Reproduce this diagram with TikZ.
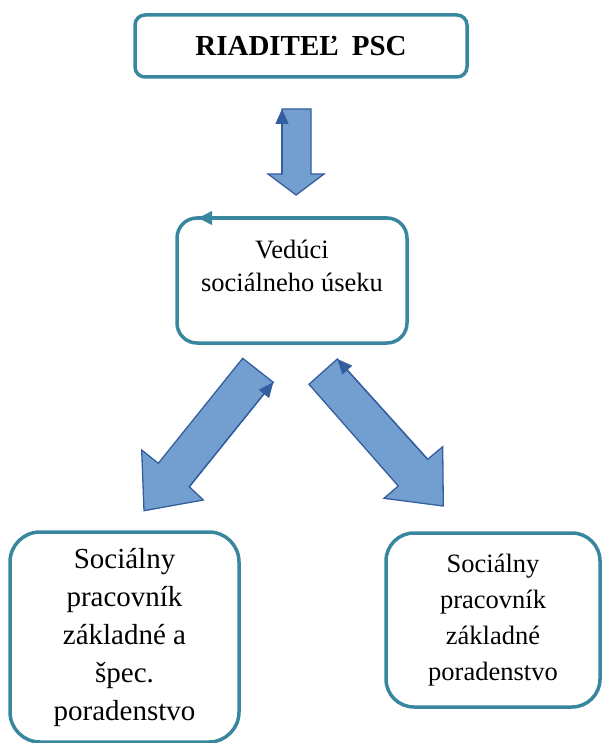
\documentclass[tikz,border=0pt]{standalone}
\usepackage{fontspec}
\setmainfont{Liberation Serif}
\usetikzlibrary{positioning, arrows.meta}
\definecolor{boxteal}{RGB}{56,135,158}
\definecolor{arrowfill}{RGB}{114,159,207}
\definecolor{arrowline}{RGB}{52,94,158}

\begin{document}
\begin{tikzpicture}[x=1pt,y=-1pt,
    box/.style={draw=boxteal, line width=3.5pt, align=center, inner sep=0pt, outer sep=0pt},
    blockarrow/.style={fill=arrowfill, draw=arrowline, line width=1.3pt, line join=miter},
    thintip/.style={draw=arrowline, line width=1.3pt, -{Triangle[length=15pt,width=13pt]}}]
    \useasboundingbox (0,0) rectangle (602,743);
    % boxes
    \node (riaditel) [box, minimum width=332pt, minimum height=62pt, rounded corners=10pt, font=\fontsize{29}{34}\selectfont\bfseries] at (301,46) {RIADITEĽ\hspace{0.45em}PSC};
    \node (veduci) [box, minimum width=230pt, minimum height=125pt, rounded corners=20pt] at (292,280.5) {};
    \node (veducitext) [align=center, font=\fontsize{26.5}{33}\selectfont] at ([yshift=15pt]veduci.center) {Vedúci\\sociálneho úseku};
    \node (specpor) [box, minimum width=229pt, minimum height=210pt, rounded corners=30pt, font=\fontsize{29}{38}\selectfont] at (124.5,637) {Sociálny\\pracovník\\základné a\\špec.\\poradenstvo};
    \node (zaklpor) [box, minimum width=214pt, minimum height=174pt, rounded corners=28pt, font=\fontsize{26.5}{36}\selectfont] at (493,620) {Sociálny\\pracovník\\základné\\poradenstvo};
    \coordinate (veducitip) at (198,218);
    \draw [boxteal, line width=3.5pt, -{Triangle[length=14pt,width=13pt]}] (veduci.north) -- (veducitip);
    % block arrows
    \draw [blockarrow] (282,109) -- (311,109) -- (311,174) -- (324,174) -- (296,195) -- (268,174) -- (282,174) -- cycle;
    \draw [blockarrow] (242.7,358.3) -- (273.3,382.3) -- (189.3,486.7) -- (203.3,500) -- (144,510.7) -- (141.7,450) -- (158.3,463.3) -- cycle;
    \draw [blockarrow] (337.3,359) -- (427.7,459.3) -- (442.7,446.7) -- (443.3,506) -- (384,498.3) -- (398.3,486) -- (309,384.3) -- cycle;
    % thin connectors along the edges
    \coordinate (topbase) at (282,174);
    \coordinate (topend) at (282,109);
    \coordinate (leftbase) at (189.3,486.7);
    \coordinate (leftend) at (273.3,382.3);
    \coordinate (rightbase) at (427.7,459.3);
    \coordinate (rightend) at (337.3,359);
    \draw [thintip] (topbase) -- (topend);
    \draw [thintip] (leftbase) -- (leftend);
    \draw [thintip] (rightbase) -- (rightend);
\end{tikzpicture}
\end{document}
